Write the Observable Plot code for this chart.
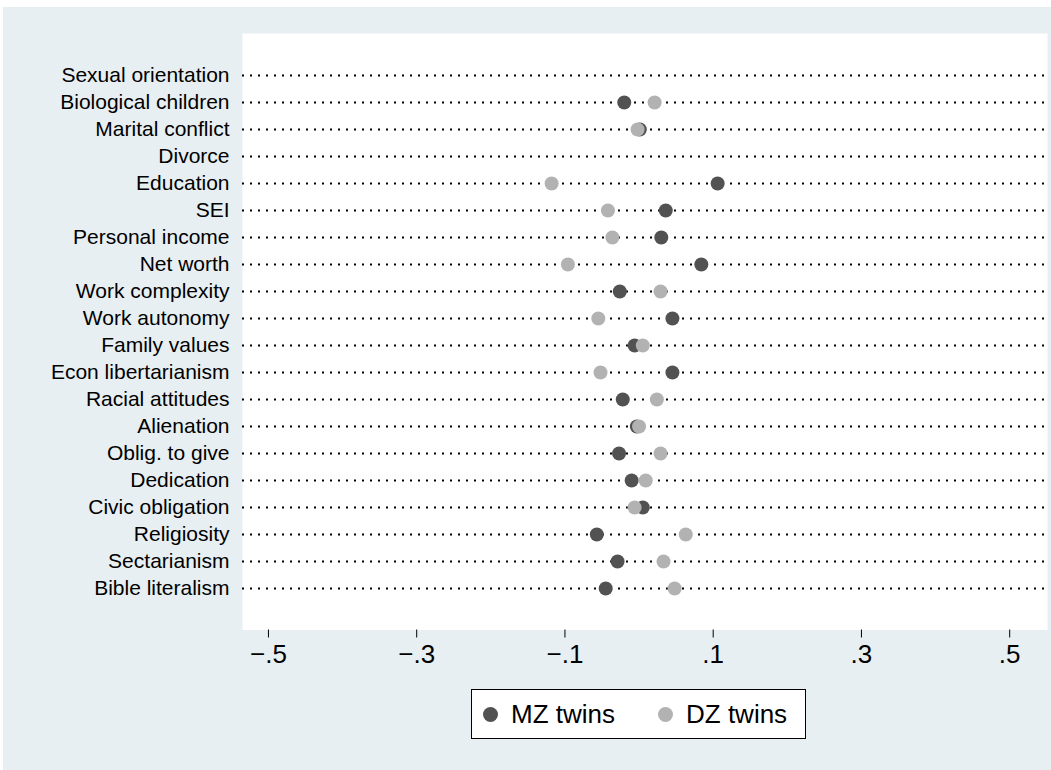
<!DOCTYPE html>
<html>
<head>
<meta charset="utf-8">
<script src="https://cdn.jsdelivr.net/npm/d3@7"></script>
<script src="https://cdn.jsdelivr.net/npm/@observablehq/plot@0.6"></script>
<style>
  html, body { margin: 0; padding: 0; background: #ffffff; }
  body { width: 1051px; height: 770px; position: relative; overflow: hidden; font-family: "Liberation Sans", Arial, sans-serif; }
  #panel { position: absolute; left: 3px; top: 7px; width: 1048px; height: 763px; background: #e8eff2; }
  #chart { position: absolute; left: 0; top: 0; }
  #legend { position: absolute; left: 468px; top: 682px; width: 333px; height: 48px; border: 1px solid #000; background: #fff; }
  .item { position: absolute; top: 0; height: 48px; display: flex; align-items: center; font-size: 26px; color: #000; }
  .sw { width: 15px; height: 15px; border-radius: 50%; margin-right: 13px; }
</style>
</head>
<body>
<div id="panel">
  <div id="chart"></div>
  <div id="legend"></div>
</div>
<script>
const categories = [
  "Sexual orientation", "Biological children", "Marital conflict", "Divorce",
  "Education", "SEI", "Personal income", "Net worth", "Work complexity",
  "Work autonomy", "Family values", "Econ libertarianism", "Racial attitudes",
  "Alienation", "Oblig. to give", "Dedication", "Civic obligation",
  "Religiosity", "Sectarianism", "Bible literalism"
];
const mzValues = [null, -0.020, 0.001, null, 0.106, 0.036, 0.030, 0.084, -0.026,
  0.045, -0.006, 0.045, -0.022, -0.003, -0.027, -0.010, 0.005, -0.057, -0.029, -0.045];
const dzValues = [null, 0.021, -0.002, null, -0.118, -0.042, -0.036, -0.096, 0.029,
  -0.055, 0.005, -0.052, 0.024, 0.000, 0.029, 0.009, -0.006, 0.063, 0.033, 0.048];
const seriesNames = ["MZ twins", "DZ twins"];
const seriesColors = ["#525252", "#b2b2b2"];
const xTicks = [-0.5, -0.3, -0.1, 0.1, 0.3, 0.5];

const mz = categories.map((c, i) => ({cat: c, v: mzValues[i]})).filter(d => d.v != null);
const dz = categories.map((c, i) => ({cat: c, v: dzValues[i]})).filter(d => d.v != null);
const fmt = d => (d < 0 ? "\u2212" : "") + Math.abs(d).toFixed(1).replace(/^0/, "");

const chart = Plot.plot({
  width: 1048,
  height: 680,
  marginLeft: 239,
  marginRight: 4,
  marginTop: 26,
  marginBottom: 57.5,
  style: {background: "transparent", color: "#000", fontFamily: "'Liberation Sans', Arial, sans-serif"},
  x: {domain: [-0.535, 0.551]},
  y: {type: "point", domain: categories, padding: 1.5},
  marks: [
    Plot.frame({fill: "white", stroke: "none"}),
    Plot.ruleY(categories, {y: d => d, stroke: "#000", strokeWidth: 2, strokeDasharray: "2,6"}),
    Plot.dot(mz, {x: "v", y: "cat", r: 7, fill: seriesColors[0], stroke: "none"}),
    Plot.dot(dz, {x: "v", y: "cat", r: 7, fill: seriesColors[1], stroke: "none"}),
    Plot.axisX({ticks: xTicks, tickFormat: fmt, tickSize: 8, tickPadding: 7, fontSize: 26, line: true, label: null}),
    Plot.axisY({tickSize: 0, tickPadding: 13, fontSize: 21, line: true, label: null})
  ]
});
document.getElementById("chart").appendChild(chart);

const legend = document.getElementById("legend");
const lefts = [11, 186];
seriesNames.forEach((name, i) => {
  const it = document.createElement("div");
  it.className = "item";
  it.style.left = lefts[i] + "px";
  const sw = document.createElement("span");
  sw.className = "sw";
  sw.style.background = seriesColors[i];
  it.appendChild(sw);
  it.appendChild(document.createTextNode(name));
  legend.appendChild(it);
});
</script>
</body>
</html>
